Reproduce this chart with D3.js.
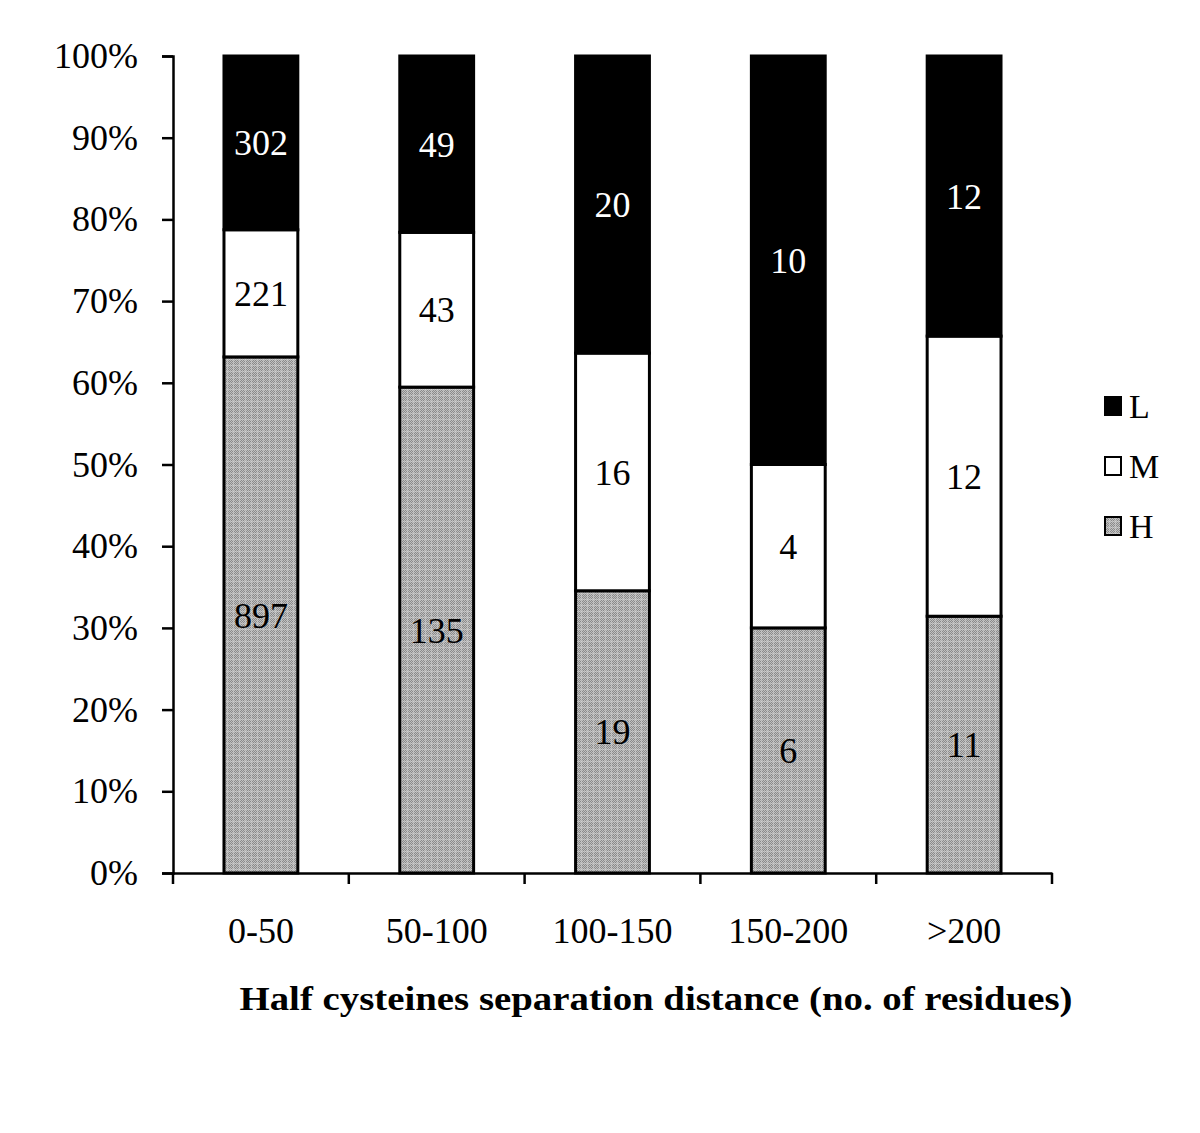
<!DOCTYPE html>
<html>
<head>
<meta charset="utf-8">
<script src="https://cdn.jsdelivr.net/npm/d3@7"></script>
<style>
html,body{margin:0;padding:0;background:#fff;}
svg{display:block;}
text{font-family:"Liberation Serif","Times New Roman",serif;}
</style>
</head>
<body>
<svg id="chart" width="1200" height="1133"></svg>
<script>
const categories = ["0-50", "50-100", "100-150", "150-200", ">200"];
const seriesNames = ["H", "M", "L"];
const countsH = [897, 135, 19, 6, 11];
const countsM = [221, 43, 16, 4, 12];
const countsL = [302, 49, 20, 10, 12];
const yTicks = [0, 0.1, 0.2, 0.3, 0.4, 0.5, 0.6, 0.7, 0.8, 0.9, 1.0];
const xTitle = "Half cysteines separation distance (no. of residues)";

const svg = d3.select("#chart");
const defs = svg.append("defs");
const pat = defs.append("pattern").attr("id","hpat").attr("patternUnits","userSpaceOnUse")
  .attr("width",6).attr("height",6);
pat.append("rect").attr("width",6).attr("height",6).attr("fill","#8a8a8a");
[[0,0],[2,0],[4,0],[1,1],[3,1],[5,1],[0,2],[2,2],[4,2],[1,3],[3,3],[5,3],[0,4],[2,4],[4,4],[1,5],[3,5],[5,5]]
  .forEach(([a,b])=>pat.append("rect").attr("x",a).attr("y",b).attr("width",1).attr("height",1).attr("fill","#c0c0c0"));
pat.append("rect").attr("x",0).attr("y",5).attr("width",6).attr("height",1).attr("fill","#d8d8d8").attr("opacity",0.5);
pat.append("rect").attr("x",5).attr("y",0).attr("width",1).attr("height",6).attr("fill","#d8d8d8").attr("opacity",0.5);

const x = d3.scaleBand().domain(categories).range([173, 1052]).paddingInner(0.58).paddingOuter(0.29);
const y = d3.scaleLinear().domain([0, 1]).range([873, 56]);

const data = categories.map((c, i) => {
  const tot = countsH[i] + countsM[i] + countsL[i];
  return {cat: c, H: countsH[i] / tot, M: countsM[i] / tot, L: countsL[i] / tot,
          cH: countsH[i], cM: countsM[i], cL: countsL[i]};
});
const stack = d3.stack().keys(seriesNames)(data);
const fills = {H: "url(#hpat)", M: "#ffffff", L: "#000000"};
const labelColor = {H: "#000", M: "#000", L: "#fff"};

stack.forEach(layer => {
  const key = layer.key;
  const g = svg.append("g");
  g.selectAll("rect").data(layer).enter().append("rect")
    .attr("x", d => x(d.data.cat))
    .attr("y", d => y(d[1]))
    .attr("width", x.bandwidth())
    .attr("height", d => y(d[0]) - y(d[1]))
    .attr("fill", fills[key])
    .attr("stroke", "#000").attr("stroke-width", 3);
  g.selectAll("text").data(layer).enter().append("text")
    .attr("x", d => x(d.data.cat) + x.bandwidth() / 2)
    .attr("y", d => y((d[0] + d[1]) / 2))
    .attr("dy", "0.35em")
    .attr("text-anchor", "middle")
    .attr("font-size", 36)
    .attr("fill", labelColor[key])
    .text(d => d.data["c" + key]);
});

// Y axis
const yAxis = d3.axisLeft(y).tickValues(yTicks).tickFormat(d3.format(".0%"))
  .tickSize(11).tickSizeOuter(11).tickPadding(24);
const gy = svg.append("g").attr("transform", "translate(173,0)").call(yAxis);
gy.selectAll("text").attr("font-size", 36).attr("fill", "#000")
  .style("font-family", '"Liberation Serif","Times New Roman",serif');
gy.selectAll("line,path").attr("stroke", "#000").attr("stroke-width", 2.5);

// X axis
const xAxis = d3.axisBottom(x).tickSize(0).tickSizeOuter(0).tickPadding(44);
const gx = svg.append("g").attr("transform", "translate(0,873)").call(xAxis);
gx.selectAll("text").attr("font-size", 36).attr("fill", "#000")
  .style("font-family", '"Liberation Serif","Times New Roman",serif');
gx.select("path").attr("stroke", "#000").attr("stroke-width", 2.5);
const bounds = categories.map(c => x(c) - x.step() * x.paddingInner() / 2).concat([x.range()[1]]);
gx.selectAll("line.bound").data(bounds).enter().append("line").attr("class", "bound")
  .attr("x1", d => d).attr("x2", d => d).attr("y1", 0).attr("y2", 11)
  .attr("stroke", "#000").attr("stroke-width", 2.5);

// X title
svg.append("text").attr("x", 656).attr("y", 1010).attr("text-anchor", "middle")
  .attr("font-size", 34).attr("font-weight", "bold")
  .attr("textLength", 833).attr("lengthAdjust", "spacingAndGlyphs")
  .text(xTitle);

// Legend
const legendOrder = ["L", "M", "H"];
const lg = svg.append("g");
legendOrder.forEach((k, i) => {
  const cy = 406 + i * 60;
  lg.append("rect").attr("x", 1105).attr("y", cy - 9).attr("width", 16).attr("height", 18)
    .attr("fill", fills[k]).attr("stroke", "#000").attr("stroke-width", 2);
  lg.append("text").attr("x", 1129).attr("y", cy).attr("dy", "0.35em")
    .attr("font-size", 34).text(k);
});
</script>
</body>
</html>
